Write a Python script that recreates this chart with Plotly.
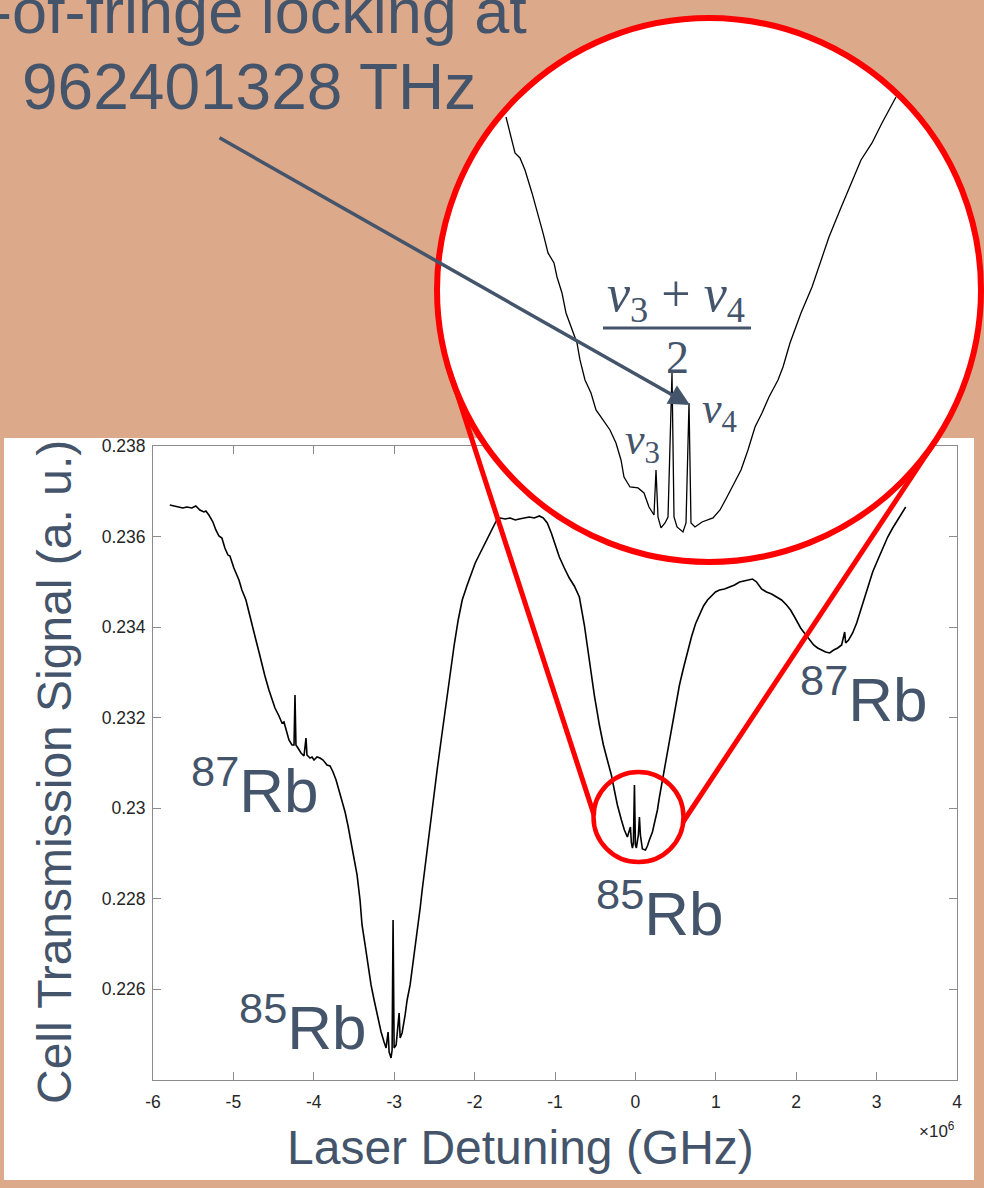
import plotly.graph_objects as go

W, H = 984, 1188

# Main scan: cell transmission vs laser detuning (detuning in units of 1e6, see axis exponent)
detuning = [
    -5.791, -5.741, -5.679, -5.629, -5.579, -5.517, -5.467, -5.417, -5.367, -5.342,
    -5.305, -5.255, -5.218, -5.180, -5.143, -5.106, -5.068, -5.043, -4.994, -4.931,
    -4.894, -4.844, -4.807, -4.770, -4.720, -4.682, -4.645, -4.608, -4.558, -4.520,
    -4.483, -4.433, -4.396, -4.371, -4.346, -4.309, -4.271, -4.246, -4.234, -4.222,
    -4.197, -4.159, -4.122, -4.097, -4.085, -4.047, -4.022, -3.997, -3.960, -3.923,
    -3.885, -3.836, -3.798, -3.761, -3.723, -3.686, -3.649, -3.611, -3.574, -3.537,
    -3.499, -3.462, -3.425, -3.400, -3.362, -3.325, -3.288, -3.250, -3.213, -3.163,
    -3.126, -3.101, -3.076, -3.063, -3.039, -3.026, -3.014, -3.001, -2.976, -2.939,
    -2.926, -2.902, -2.864, -2.839, -2.802, -2.777, -2.740, -2.715, -2.677, -2.652,
    -2.615, -2.565, -2.516, -2.466, -2.416, -2.366, -2.316, -2.254, -2.204, -2.154,
    -2.092, -2.042, -1.992, -1.943, -1.880, -1.818, -1.768, -1.731, -1.681, -1.619,
    -1.557, -1.494, -1.445, -1.382, -1.320, -1.258, -1.195, -1.146, -1.096, -1.046,
    -0.996, -0.946, -0.884, -0.822, -0.760, -0.697, -0.635, -0.573, -0.511, -0.448,
    -0.398, -0.349, -0.299, -0.262, -0.224, -0.174, -0.137, -0.100, -0.062, -0.050,
    -0.037, -0.025, -0.012, 0.000, 0.012, 0.037, 0.050, 0.062, 0.087, 0.125,
    0.149, 0.174, 0.212, 0.237, 0.274, 0.299, 0.336, 0.361, 0.398, 0.436,
    0.473, 0.511, 0.548, 0.598, 0.648, 0.697, 0.747, 0.797, 0.847, 0.897,
    0.946, 0.996, 1.046, 1.108, 1.171, 1.233, 1.295, 1.357, 1.420, 1.457,
    1.507, 1.569, 1.631, 1.694, 1.756, 1.818, 1.880, 1.930, 1.980, 2.017,
    2.055, 2.092, 2.129, 2.167, 2.217, 2.266, 2.316, 2.366, 2.416, 2.466,
    2.516, 2.565, 2.603, 2.615, 2.652, 2.702, 2.752, 2.802, 2.852, 2.902,
    2.951, 3.014, 3.076, 3.138, 3.200, 3.263, 3.325, 3.362,
]
transmission = [
    0.236696, 0.236674, 0.236652, 0.236630, 0.236652, 0.236630, 0.236674, 0.236586, 0.236542, 0.236564,
    0.236475, 0.236321, 0.236144, 0.236011, 0.235967, 0.235746, 0.235591, 0.235569, 0.235304, 0.235039,
    0.234818, 0.234597, 0.234332, 0.234044, 0.233713, 0.233448, 0.233160, 0.232917, 0.232608, 0.232387,
    0.232210, 0.232033, 0.231879, 0.231901, 0.231724, 0.231503, 0.231392, 0.231392, 0.232497, 0.231392,
    0.231326, 0.231216, 0.231149, 0.231547, 0.231171, 0.231105, 0.231127, 0.231061, 0.231127, 0.231105,
    0.231061, 0.230950, 0.230928, 0.230796, 0.230619, 0.230398, 0.230177, 0.229912, 0.229602, 0.229249,
    0.228895, 0.228520, 0.227967, 0.227415, 0.226973, 0.226531, 0.226089, 0.225757, 0.225426, 0.225050,
    0.224829, 0.224696, 0.225050, 0.224608, 0.224475, 0.224652, 0.227525, 0.224696, 0.224763, 0.225470,
    0.224917, 0.225028, 0.225426, 0.225757, 0.226089, 0.226420, 0.226862, 0.227304, 0.227790, 0.228188,
    0.228741, 0.229404, 0.230177, 0.230840, 0.231503, 0.232166, 0.232829, 0.233602, 0.234155, 0.234597,
    0.234928, 0.235193, 0.235414, 0.235591, 0.235812, 0.236033, 0.236210, 0.236343, 0.236409, 0.236387,
    0.236409, 0.236365, 0.236387, 0.236409, 0.236431, 0.236409, 0.236453, 0.236409, 0.236298, 0.236077,
    0.235812, 0.235547, 0.235304, 0.235083, 0.234906, 0.234663, 0.234044, 0.233271, 0.232497, 0.231834,
    0.231392, 0.231061, 0.230729, 0.230398, 0.230067, 0.229735, 0.229514, 0.229359, 0.229580, 0.229227,
    0.229116, 0.229227, 0.230508, 0.229183, 0.229116, 0.229404, 0.229801, 0.229404, 0.229094, 0.229072,
    0.229160, 0.229293, 0.229470, 0.229669, 0.229956, 0.230243, 0.230619, 0.230906, 0.231238, 0.231613,
    0.232011, 0.232387, 0.232718, 0.233094, 0.233448, 0.233779, 0.234066, 0.234287, 0.234464, 0.234597,
    0.234685, 0.234774, 0.234818, 0.234840, 0.234884, 0.234928, 0.234995, 0.235017, 0.235039, 0.235061,
    0.234995, 0.234840, 0.234774, 0.234729, 0.234663, 0.234597, 0.234486, 0.234376, 0.234221, 0.234088,
    0.233978, 0.233890, 0.233801, 0.233713, 0.233602, 0.233536, 0.233492, 0.233448, 0.233426, 0.233492,
    0.233536, 0.233602, 0.233890, 0.233647, 0.233713, 0.233868, 0.234088, 0.234376, 0.234663, 0.234928,
    0.235216, 0.235481, 0.235746, 0.235989, 0.236188, 0.236365, 0.236542, 0.236652,
]

# Magnified scan across the 85Rb line centre
zoom_detuning = [
    -0.5533, -0.5233, -0.5067, -0.4900, -0.4667, -0.4533, -0.4300, -0.4133, -0.3933, -0.3833,
    -0.3667, -0.3533, -0.3367, -0.3167, -0.3067, -0.2900, -0.2700, -0.2533, -0.2300, -0.2067,
    -0.1867, -0.1700, -0.1600, -0.1400, -0.1133, -0.0933, -0.0767, -0.0600, -0.0533, -0.0467,
    -0.0367, -0.0233, -0.0133, 0.0000, 0.0067, 0.0167, 0.0367, 0.0467, 0.0567, 0.0633,
    0.0767, 0.1000, 0.1367, 0.1600, 0.1833, 0.2067, 0.2300, 0.2533, 0.2767, 0.3000,
    0.3233, 0.3533, 0.3700, 0.3933, 0.4300, 0.4667, 0.4900, 0.5233, 0.5600, 0.5933,
    0.6300, 0.6667, 0.7000, 0.7467,
]
zoom_transmission = [
    0.232586, 0.232284, 0.232242, 0.232141, 0.231948, 0.231830, 0.231612, 0.231444, 0.231360, 0.231242,
    0.231108, 0.230940, 0.230822, 0.230688, 0.230545, 0.230377, 0.230268, 0.230125, 0.230041, 0.229957,
    0.229848, 0.229705, 0.229562, 0.229478, 0.229470, 0.229428, 0.229310, 0.229243, 0.229621, 0.229226,
    0.229134, 0.229176, 0.229226, 0.230436, 0.229226, 0.229142, 0.229100, 0.229176, 0.230184, 0.229176,
    0.229142, 0.229184, 0.229218, 0.229285, 0.229394, 0.229512, 0.229621, 0.229789, 0.229982, 0.230100,
    0.230234, 0.230377, 0.230486, 0.230688, 0.230940, 0.231158, 0.231326, 0.231578, 0.231805, 0.231998,
    0.232225, 0.232368, 0.232536, 0.232754,
]

x_tick_values = [-6, -5, -4, -3, -2, -1, 0, 1, 2, 3, 4]
x_tick_labels = ["-6", "-5", "-4", "-3", "-2", "-1", "0", "1", "2", "3", "4"]
y_tick_values = [0.226, 0.228, 0.230, 0.232, 0.234, 0.236, 0.238]
y_tick_labels = ["0.226", "0.228", "0.23", "0.232", "0.234", "0.236", "0.238"]
x_range = [-6, 4]
y_range = [0.224, 0.238]
zoom_x_range = [-0.78333, 1.03]
zoom_y_range = [0.228848, 0.2334176]

SLATE = "#44546A"
TAN = "#DDA98B"
RED = "#FF0000"
AXIS_GREY = "#8C8C8C"
TICK_TEXT = "#262626"
SANS = "Liberation Sans, Arial, Helvetica, sans-serif"
SERIF = "Liberation Serif, DejaVu Serif, serif"


def px(x):
    return x / W


def py(y):
    return 1 - y / H


fig = go.Figure()
fig.add_trace(go.Scatter(
    x=detuning, y=transmission, mode="lines",
    line=dict(color="black", width=1.6),
    xaxis="x", yaxis="y", showlegend=False, hoverinfo="skip",
))
fig.add_trace(go.Scatter(
    x=zoom_detuning, y=zoom_transmission, mode="lines",
    line=dict(color="black", width=1.3),
    xaxis="x2", yaxis="y2", showlegend=False, hoverinfo="skip",
))

axis_common = dict(
    ticks="inside", ticklen=8, tickwidth=1, tickcolor=AXIS_GREY,
    showline=True, linecolor=AXIS_GREY, linewidth=1, mirror="ticks",
    showgrid=False, zeroline=False, automargin=False,
    tickfont=dict(family=SANS, size=17.5, color=TICK_TEXT),
)

shapes = [
    # white slide panel holding the main axes
    dict(type="rect", xref="paper", yref="paper", layer="below",
         x0=px(4), x1=px(974), y0=py(1180), y1=py(438),
         fillcolor="white", line=dict(width=0)),
    # white disc behind the magnified scan
    dict(type="circle", xref="x2", yref="y2", layer="below",
         x0=zoom_x_range[0], x1=zoom_x_range[1], y0=zoom_y_range[0], y1=zoom_y_range[1],
         fillcolor="white", line=dict(width=0)),
    # magnifier outline, small circle and connecting lines
    dict(type="circle", xref="paper", yref="paper", layer="above",
         x0=px(437), x1=px(981), y0=py(562), y1=py(18),
         line=dict(color=RED, width=6)),
    dict(type="circle", xref="paper", yref="paper", layer="above",
         x0=px(593.5), x1=px(683.5), y0=py(862), y1=py(772),
         line=dict(color=RED, width=4.5)),
    dict(type="line", xref="paper", yref="paper", layer="above",
         x0=px(450), y0=py(372), x1=px(594), y1=py(815),
         line=dict(color=RED, width=5)),
    dict(type="line", xref="paper", yref="paper", layer="above",
         x0=px(935.6), y0=py(440.7), x1=px(683), y1=py(822),
         line=dict(color=RED, width=5)),
    # fraction bar of (v3 + v4)/2
    dict(type="line", xref="paper", yref="paper", layer="above",
         x0=px(603), y0=py(328), x1=px(751), y1=py(328),
         line=dict(color=SLATE, width=3)),
]


def label(text, x, y, size, color=SLATE, family=SANS, **kw):
    return dict(text=text, x=px(x), y=py(y), xref="paper", yref="paper",
                showarrow=False, xanchor=kw.pop("xanchor", "center"),
                yanchor=kw.pop("yanchor", "middle"),
                font=dict(family=family, size=size, color=color), **kw)


annotations = [
    label("Side-of-fringe locking at", 529, 11, 63, xanchor="right"),
    label("962401328 THz", 249, 87, 64),
    label("Cell Transmission Signal (a. u.)", 54, 772, 48, textangle=-90),
    label("Laser Detuning (GHz)", 520, 1147, 48),
    label("<sup>87</sup>Rb", 255, 786, 62),
    label("<sup>85</sup>Rb", 303, 1023, 62),
    label("<sup>85</sup>Rb", 660, 909, 62),
    label("<sup>87</sup>Rb", 864, 695, 62),
    label("×10<sup>6</sup>", 957, 1130, 17, color=TICK_TEXT, xanchor="right"),
    label("<i>ν</i><sub>3</sub> + <i>ν</i><sub>4</sub>", 676, 297, 52, family=SERIF),
    label("2", 677, 357, 46, family=SERIF),
    label("<i>ν</i><sub>4</sub>", 719, 412, 44, family=SERIF),
    label("<i>ν</i><sub>3</sub>", 642, 443, 44, family=SERIF),
    dict(x=px(690), y=py(405), xref="paper", yref="paper", text="",
         showarrow=True, ax=218 - 690, ay=137 - 405, axref="pixel", ayref="pixel",
         arrowhead=2, arrowsize=1.2, arrowwidth=3.5, arrowcolor=SLATE, standoff=0),
]

fig.update_layout(
    width=W, height=H,
    margin=dict(l=0, r=0, t=0, b=0, autoexpand=False),
    paper_bgcolor=TAN,
    plot_bgcolor="rgba(0,0,0,0)",
    showlegend=False,
    xaxis=dict(domain=[px(153), px(957)], range=x_range, tickvals=x_tick_values,
               ticktext=x_tick_labels, anchor="y", ticklabelstandoff=6, **axis_common),
    yaxis=dict(domain=[py(1079.5), py(446)], range=y_range, tickvals=y_tick_values,
               ticktext=y_tick_labels, anchor="x", ticklabelstandoff=3, **axis_common),
    xaxis2=dict(domain=[px(437), px(981)], range=zoom_x_range, visible=False,
                anchor="y2", fixedrange=True),
    yaxis2=dict(domain=[py(562), py(18)], range=zoom_y_range, visible=False,
                anchor="x2", fixedrange=True),
    shapes=shapes,
    annotations=annotations,
)

fig.write_html("out.html")
